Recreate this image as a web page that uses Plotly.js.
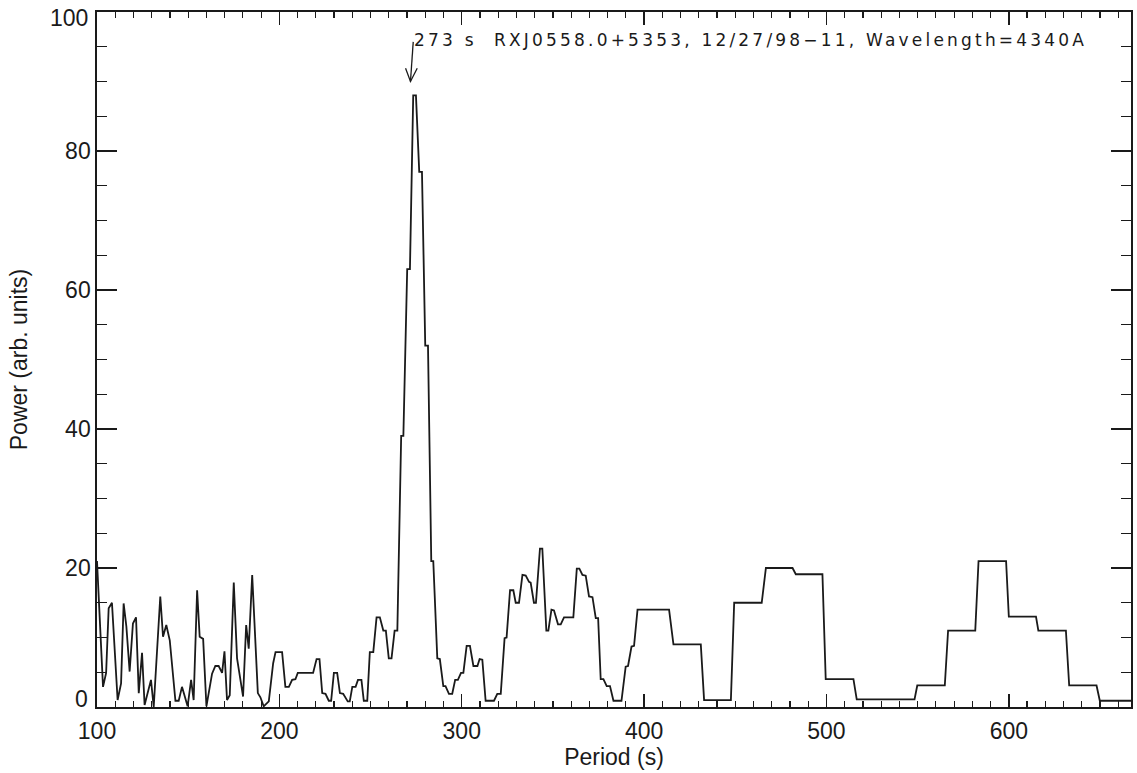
<!DOCTYPE html>
<html>
<head>
<meta charset="utf-8">
<script src="https://cdn.plot.ly/plotly-3.0.1.min.js"></script>
<style>
  html, body { margin: 0; padding: 0; background: #ffffff; }
  #chart { width: 1137px; height: 773px; }
  /* wider spacing for the header line (the only DejaVu text) */
  text.annotation-text[style*="DejaVu"] { letter-spacing: 3.2px; }
</style>
</head>
<body>
<div id="chart"></div>
<script>
// Periodogram vertices: trial period (s) and power (arb. units)
const period = [
  100.0, 103.3, 105.0, 106.4, 108.2, 111.3, 113.2, 114.6, 116.1, 117.9,
  119.7, 121.4, 122.9, 124.7, 126.1, 129.6, 131.1, 134.7, 136.2, 138.0,
  139.9, 143.0, 144.8, 146.6, 149.7, 151.6, 153.0, 154.9, 156.3, 158.2,
  160.0, 163.1, 164.9, 166.7, 168.6, 169.9, 171.3, 172.8, 175.0, 176.8,
  180.1, 181.8, 183.2, 185.1, 188.2, 189.6, 191.4, 194.2, 196.6, 197.9,
  201.5, 203.3, 205.2, 207.0, 208.8, 210.1, 218.5, 220.4, 222.0, 223.5,
  225.3, 227.1, 228.4, 229.9, 231.7, 233.2, 235.0, 237.5, 238.6, 240.0,
  241.8, 243.1, 245.0, 246.3, 248.2, 249.6, 251.5, 253.3, 255.1, 257.0,
  258.4, 260.0, 261.5, 263.2, 264.7, 266.8, 268.0, 270.1, 271.6, 273.4,
  274.9, 276.7, 278.2, 280.0, 281.5, 283.3, 284.4, 286.6, 288.0, 289.9,
  291.1, 293.0, 294.8, 296.4, 297.9, 299.6, 300.9, 302.7, 304.5, 306.4,
  308.6, 309.8, 311.3, 313.1, 317.7, 319.5, 321.4, 323.5, 324.6, 326.5,
  328.3, 329.6, 331.4, 333.3, 335.1, 336.9, 337.8, 339.6, 340.7, 342.9,
  344.2, 346.4, 347.5, 349.2, 350.6, 352.8, 354.3, 356.1, 361.2, 363.1,
  364.5, 366.2, 368.0, 369.8, 371.7, 373.5, 374.8, 376.2, 377.7, 379.5,
  381.3, 383.2, 387.6, 389.9, 391.2, 393.1, 394.5, 396.4, 413.7, 416.1,
  431.1, 432.9, 447.6, 449.4, 464.5, 466.8, 481.4, 483.2, 497.8, 499.6,
  514.8, 516.6, 548.3, 549.8, 564.9, 566.7, 581.6, 583.4, 598.5, 600.0,
  614.9, 616.2, 631.3, 633.1, 648.1, 649.9, 667.0
];
const power = [
  21.0, 2.9, 4.9, 14.2, 15.0, 1.0, 3.4, 14.9, 11.6, 5.1,
  12.0, 12.9, 2.0, 7.8, 0.3, 3.9, 0.0, 15.9, 10.1, 11.8,
  9.6, 0.9, 0.9, 2.9, 0.1, 3.9, 1.0, 16.8, 10.1, 9.8,
  0.1, 4.8, 5.9, 5.9, 4.9, 8.0, 1.0, 1.7, 17.9, 7.0,
  1.5, 11.8, 8.4, 19.0, 2.0, 1.4, 0.1, 0.8, 6.3, 7.9,
  7.9, 2.9, 2.9, 3.9, 4.0, 4.9, 4.9, 6.9, 6.9, 2.0,
  1.9, 0.9, 0.9, 4.9, 4.9, 2.0, 1.9, 0.8, 0.8, 2.9,
  2.9, 3.9, 3.9, 0.9, 0.9, 7.9, 7.9, 12.9, 12.9, 11.0,
  11.0, 7.0, 7.0, 11.0, 11.0, 39.0, 39.0, 63.0, 63.0, 88.0,
  88.0, 77.0, 77.0, 52.0, 52.0, 21.0, 21.0, 7.0, 6.9, 3.0,
  3.0, 1.9, 1.9, 3.9, 3.9, 4.9, 4.9, 8.8, 8.8, 5.9,
  5.9, 6.9, 6.8, 0.9, 0.9, 1.9, 1.9, 9.9, 10.0, 16.8,
  16.8, 15.0, 15.0, 19.0, 18.9, 18.0, 17.9, 15.0, 15.0, 22.8,
  22.8, 11.0, 11.0, 14.0, 13.9, 11.9, 11.9, 12.9, 12.9, 19.9,
  19.9, 19.0, 18.9, 15.9, 15.8, 12.8, 12.8, 4.0, 4.0, 3.0,
  3.0, 0.9, 0.9, 5.8, 5.9, 8.7, 8.8, 14.0, 14.0, 9.0,
  9.0, 1.0, 1.0, 15.0, 15.0, 20.0, 20.0, 19.1, 19.1, 4.0,
  4.0, 1.1, 1.1, 3.1, 3.1, 11.0, 11.0, 21.0, 21.0, 13.0,
  13.0, 11.0, 11.0, 3.1, 3.1, 0.9, 0.9
];

// Axis ticks: the end labels of the power axis are placed separately
const xTickVals = [100, 200, 300, 400, 500, 600];
const yTickVals = [20, 40, 60, 80];
const yEndLabels = [0, 100];

// Detected period and header text
const peakPeriod = 273;
const headerText = peakPeriod + ' s\u00A0\u00A0RXJ0558.0+5353, 12/27/98\u221211, Wavelength=4340A';

const ink = '#1a1a1a';
const labelFont = { family: 'Liberation Sans, Arial, Helvetica, sans-serif', size: 23, color: ink };

const trace = {
  x: period,
  y: power,
  type: 'scatter',
  mode: 'lines',
  line: { color: ink, width: 1.8 },
  hoverinfo: 'skip'
};

// Down arrow marking the peak period (open V head)
const arrowTipY = 90.0;
const arrowShapes = [
  { type: 'line', xref: 'x', yref: 'y',
    x0: peakPeriod + 0.4, y0: 95.7, x1: peakPeriod - 1.1, y1: arrowTipY,
    line: { color: ink, width: 1.3 } },
  { type: 'path', xref: 'x', yref: 'y',
    path: 'M ' + (peakPeriod - 3.8) + ',' + (arrowTipY + 1.9) +
          ' L ' + (peakPeriod - 1.1) + ',' + arrowTipY +
          ' L ' + (peakPeriod + 2.6) + ',' + (arrowTipY + 1.9),
    line: { color: ink, width: 1.3 } }
];

// End labels of the power axis sit inside the axis span
const endLabelShift = { 0: 8, 100: -6 };
const endLabelAnnotations = yEndLabels.map(v => ({
  xref: 'paper', yref: 'y',
  x: 0, y: v,
  xanchor: 'right', yanchor: 'middle',
  xshift: -7, yshift: endLabelShift[v],
  text: String(v),
  showarrow: false,
  font: labelFont
}));

const layout = {
  width: 1137,
  height: 773,
  margin: { l: 97, r: 6, t: 12, b: 66 },
  paper_bgcolor: '#ffffff',
  plot_bgcolor: '#ffffff',
  showlegend: false,
  xaxis: {
    range: [100, 667],
    tickvals: xTickVals,
    ticks: 'inside',
    ticklen: 13,
    tickwidth: 1.4,
    tickcolor: ink,
    showline: true,
    linecolor: ink,
    linewidth: 1.7,
    mirror: 'ticks',
    showgrid: false,
    zeroline: false,
    tickfont: labelFont,
    ticklabelstandoff: 3,
    minor: { dtick: 10, tick0: 0, ticks: 'inside', ticklen: 6, tickwidth: 1.2, tickcolor: ink, showgrid: false },
    title: { text: 'Period (s)', font: labelFont, standoff: 3 }
  },
  yaxis: {
    range: [0, 100],
    tickvals: yTickVals,
    ticks: 'inside',
    ticklen: 20,
    tickwidth: 1.4,
    tickcolor: ink,
    showline: true,
    linecolor: ink,
    linewidth: 1.7,
    mirror: 'ticks',
    showgrid: false,
    zeroline: false,
    tickfont: labelFont,
    minor: { dtick: 5, tick0: 0, ticks: 'inside', ticklen: 10, tickwidth: 1.2, tickcolor: ink, showgrid: false },
    title: { text: 'Power (arb. units)', font: labelFont, standoff: 31 }
  },
  shapes: arrowShapes,
  annotations: [{
    xref: 'x', yref: 'y',
    x: peakPeriod, y: 95.9,
    xanchor: 'left', yanchor: 'middle',
    text: headerText,
    showarrow: false,
    font: { family: 'DejaVu Sans, sans-serif', size: 17, color: ink }
  }].concat(endLabelAnnotations)
};

Plotly.newPlot('chart', [trace], layout, { staticPlot: true, displayModeBar: false });
</script>
</body>
</html>
